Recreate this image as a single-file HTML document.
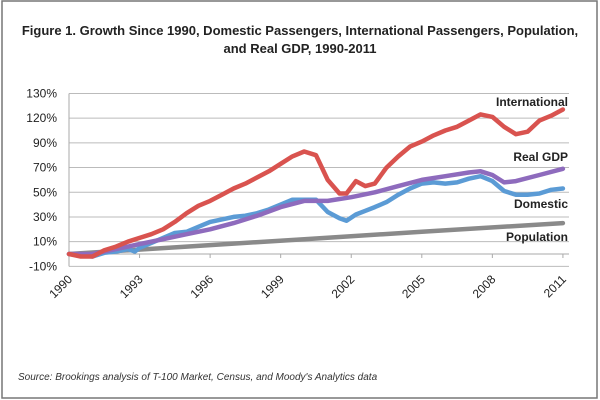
<!DOCTYPE html>
<html><head><meta charset="utf-8"><style>
body{margin:0;background:#fff;}
svg{display:block;font-family:"Liberation Sans",sans-serif;}
</style></head><body>
<svg id="chart" width="600" height="400">
<rect x="2" y="1" width="595" height="397" fill="#fff" stroke="#777" stroke-width="1.5"/>
<text x="300" y="35" text-anchor="middle" font-size="13" font-weight="bold" fill="#222">Figure 1. Growth Since 1990, Domestic Passengers, International Passengers, Population,</text>
<text x="300" y="53" text-anchor="middle" font-size="13" font-weight="bold" fill="#222">and Real GDP, 1990-2011</text>
<g id="grid"></g><g id="axes"></g><g id="series"></g>
<text x="568" y="106" text-anchor="end" font-size="12" font-weight="bold" fill="#222">International</text>
<text x="568" y="161" text-anchor="end" font-size="12" font-weight="bold" fill="#222">Real GDP</text>
<text x="568" y="208" text-anchor="end" font-size="12" font-weight="bold" fill="#222">Domestic</text>
<text x="568" y="241" text-anchor="end" font-size="12" font-weight="bold" fill="#222">Population</text>
<text x="18" y="380" font-size="10" font-style="italic" fill="#333">Source: Brookings analysis of T-100 Market, Census, and Moody's Analytics data</text>
</svg>
<script>
const yTickValues=[130,110,90,70,50,30,10,-10];
const yTickLabels=["130%","120%","90%","70%","50%","30%","10%","-10%"];
const xTickYears=[1990,1993,1996,1999,2002,2005,2008,2011];
const intlYears=[1990,1990.5,1991,1991.5,1992,1992.5,1993,1993.5,1994,1994.5,1995,1995.5,1996,1996.5,1997,1997.5,1998,1998.5,1999,1999.5,2000,2000.5,2001,2001.5,2001.8,2002.2,2002.6,2003,2003.5,2004,2004.5,2005,2005.5,2006,2006.5,2007,2007.5,2008,2008.5,2009,2009.5,2010,2010.5,2011];
const intlValues=[0,-2,-2,3,6,10,13,16,20,26,33,39,43,48,53,57,62,67,73,79,83,80,60,49,49,59,55,57,70,79,87,91,96,100,103,108,113,111,103,97,99,108,112,117];
const domYears=[1990,1991,1991.5,1992,1992.5,1992.8,1993,1993.5,1994,1994.5,1995,1995.5,1996,1996.5,1997,1997.5,1998,1998.5,1999,1999.5,2000,2000.5,2001,2001.5,2001.8,2002.2,2002.6,2003,2003.5,2004,2004.5,2005,2005.5,2006,2006.5,2007,2007.5,2008,2008.5,2009,2009.5,2010,2010.5,2011];
const domValues=[0,-2,1,2,4,2,5,9,13,17,18,22,26,28,30,31,33,36,40,44,44,44,34,29,27,32,35,38,42,48,53,57,58,57,58,61,63,59,51,48,48,49,52,53];
const gdpYears=[1990,1991,1992,1993,1994,1995,1996,1997,1998,1999,2000,2000.5,2001,2002,2003,2004,2005,2006,2007,2007.5,2008,2008.5,2009,2010,2011];
const gdpValues=[0,0,4,8,12,16,20,25,31,38,43,43,43,46,50,55,60,63,66,67,64,58,59,64,69];
const popYears=[1990,1995,2000,2005,2011];
const popValues=[0,6,12,18,25];
const NS="http://www.w3.org/2000/svg";
function xs(yr){return 69+(yr-1990)*23.52;}
function ys(v){return 254-v*1.235;}
const grid=document.getElementById('grid'),axes=document.getElementById('axes'),series=document.getElementById('series');
yTickValues.forEach((v,i)=>{
 const l=document.createElementNS(NS,'line');
 l.setAttribute('x1',69);l.setAttribute('x2',569);l.setAttribute('y1',ys(v));l.setAttribute('y2',ys(v));
 l.setAttribute('stroke','#bbb');l.setAttribute('stroke-width','1');
 
 
 grid.appendChild(l);
 const t=document.createElementNS(NS,'text');
 t.setAttribute('x',57);t.setAttribute('y',ys(v)+4);t.setAttribute('text-anchor','end');t.setAttribute('font-size','12');t.setAttribute('fill','#222');
 t.textContent=yTickLabels[i];
 
 
 axes.appendChild(t);
});
const ax=document.createElementNS(NS,'line');
ax.setAttribute('x1',69);ax.setAttribute('x2',569);ax.setAttribute('y1',ys(0));ax.setAttribute('y2',ys(0));ax.setAttribute('stroke','#aaa');


axes.appendChild(ax);
const ay=document.createElementNS(NS,'line');
ay.setAttribute('x1',69);ay.setAttribute('x2',69);ay.setAttribute('y1',ys(130));ay.setAttribute('y2',ys(-10));ay.setAttribute('stroke','#aaa');


axes.appendChild(ay);
xTickYears.forEach(yr=>{
 const x=xs(yr);
 const tk=document.createElementNS(NS,'line');
 tk.setAttribute('x1',x);tk.setAttribute('x2',x);tk.setAttribute('y1',ys(0));tk.setAttribute('y2',ys(0)+4);tk.setAttribute('stroke','#aaa');
 
 
 axes.appendChild(tk);
 const t=document.createElementNS(NS,'text');
 t.setAttribute('x',x+4);t.setAttribute('y',280);t.setAttribute('text-anchor','end');t.setAttribute('font-size','12');t.setAttribute('fill','#222');
 t.setAttribute('transform','rotate(-45 '+(x+4)+' 280)');
 t.textContent=yr;
 
 
 axes.appendChild(t);
});
function drawLine(years,vals,color,name){
 const p=document.createElementNS(NS,'polyline');
 p.setAttribute('points',years.map((y,i)=>xs(y).toFixed(1)+','+ys(vals[i]).toFixed(1)).join(' '));
 p.setAttribute('fill','none');p.setAttribute('stroke',color);p.setAttribute('stroke-width','4.5');
 p.setAttribute('stroke-linejoin','round');p.setAttribute('stroke-linecap','round');
 
 
 series.appendChild(p);
}
drawLine(popYears,popValues,'#8a8a8a','population-line');
drawLine(domYears,domValues,'#5b9bd5','domestic-line');
drawLine(gdpYears,gdpValues,'#8e6bbd','real-gdp-line');
drawLine(intlYears,intlValues,'#d9534f','international-line');
</script>
</body></html>
